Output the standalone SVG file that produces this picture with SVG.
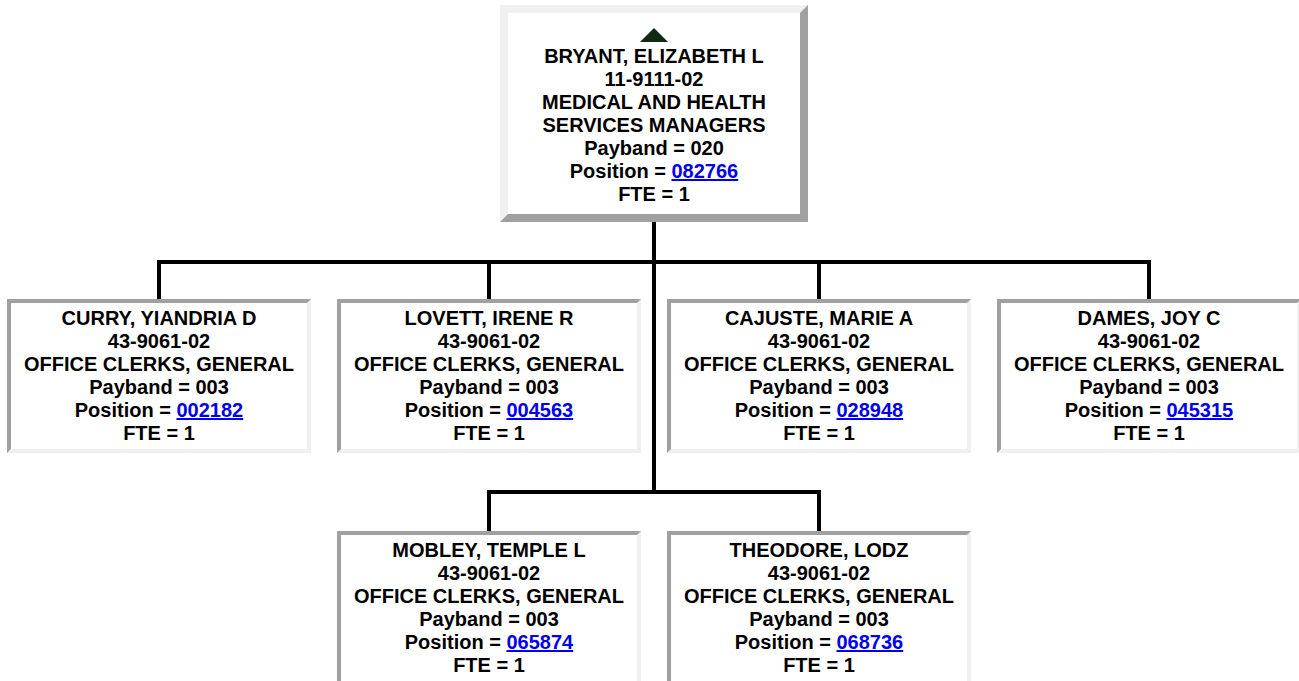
<svg xmlns="http://www.w3.org/2000/svg" xmlns:xlink="http://www.w3.org/1999/xlink" width="1299" height="681" viewBox="0 0 1299 681">
<style>
text{font-family:"Liberation Sans",Arial,Helvetica,sans-serif;font-weight:bold;font-size:20px;fill:#000;text-anchor:middle}
.lk{fill:#0000ee;text-decoration:underline}
.cn{fill:none;stroke:#000;stroke-width:4;stroke-linecap:square;stroke-linejoin:miter}
</style>
<defs>
<g id="cf"><rect width="304" height="154" fill="#f0f0f0"/><path d="M0,0H304L300,4H4V150L0,154Z" fill="#a0a0a0"/><rect x="4" y="4" width="296" height="146" fill="#fff"/></g>
<g id="tf"><rect width="308" height="217" fill="#a0a0a0"/><path d="M0,0H308L300,8H8V209L0,217Z" fill="#f0f0f0"/><rect x="8" y="8" width="292" height="201" fill="#fff"/></g>
</defs>
<rect width="1299" height="681" fill="#fff"/>
<g id="connectors" class="cn">
<path class="cn" d="M654,222V492"/>
<path class="cn" d="M159,299V262H1149V299"/>
<path class="cn" d="M489,262V299"/>
<path class="cn" d="M819,262V299"/>
<path class="cn" d="M489,531V492H819V531"/>
</g>
<g id="bryant">
<use xlink:href="#tf" x="500" y="5"/>
<polygon points="654,28 668,42 640,42" fill="#0f2a12"/>
<text x="654" y="63">BRYANT, ELIZABETH L</text>
<text x="654" y="86">11-9111-02</text>
<text x="654" y="109">MEDICAL AND HEALTH</text>
<text x="654" y="132">SERVICES MANAGERS</text>
<text x="654" y="155">Payband = 020</text>
<text x="654" y="178">Position = <tspan class="lk">082766</tspan></text>
<text x="654" y="201">FTE = 1</text>
</g>
<g id="curry">
<use xlink:href="#cf" x="7" y="299"/>
<text x="159" y="325">CURRY, YIANDRIA D</text>
<text x="159" y="348">43-9061-02</text>
<text x="159" y="371">OFFICE CLERKS, GENERAL</text>
<text x="159" y="394">Payband = 003</text>
<text x="159" y="417">Position = <tspan class="lk">002182</tspan></text>
<text x="159" y="440">FTE = 1</text>
</g>
<g id="lovett">
<use xlink:href="#cf" x="337" y="299"/>
<text x="489" y="325">LOVETT, IRENE R</text>
<text x="489" y="348">43-9061-02</text>
<text x="489" y="371">OFFICE CLERKS, GENERAL</text>
<text x="489" y="394">Payband = 003</text>
<text x="489" y="417">Position = <tspan class="lk">004563</tspan></text>
<text x="489" y="440">FTE = 1</text>
</g>
<g id="cajuste">
<use xlink:href="#cf" x="667" y="299"/>
<text x="819" y="325">CAJUSTE, MARIE A</text>
<text x="819" y="348">43-9061-02</text>
<text x="819" y="371">OFFICE CLERKS, GENERAL</text>
<text x="819" y="394">Payband = 003</text>
<text x="819" y="417">Position = <tspan class="lk">028948</tspan></text>
<text x="819" y="440">FTE = 1</text>
</g>
<g id="dames">
<use xlink:href="#cf" x="997" y="299"/>
<text x="1149" y="325">DAMES, JOY C</text>
<text x="1149" y="348">43-9061-02</text>
<text x="1149" y="371">OFFICE CLERKS, GENERAL</text>
<text x="1149" y="394">Payband = 003</text>
<text x="1149" y="417">Position = <tspan class="lk">045315</tspan></text>
<text x="1149" y="440">FTE = 1</text>
</g>
<g id="mobley">
<use xlink:href="#cf" x="337" y="531"/>
<text x="489" y="557">MOBLEY, TEMPLE L</text>
<text x="489" y="580">43-9061-02</text>
<text x="489" y="603">OFFICE CLERKS, GENERAL</text>
<text x="489" y="626">Payband = 003</text>
<text x="489" y="649">Position = <tspan class="lk">065874</tspan></text>
<text x="489" y="672">FTE = 1</text>
</g>
<g id="theodore">
<use xlink:href="#cf" x="667" y="531"/>
<text x="819" y="557">THEODORE, LODZ</text>
<text x="819" y="580">43-9061-02</text>
<text x="819" y="603">OFFICE CLERKS, GENERAL</text>
<text x="819" y="626">Payband = 003</text>
<text x="819" y="649">Position = <tspan class="lk">068736</tspan></text>
<text x="819" y="672">FTE = 1</text>
</g>
</svg>
